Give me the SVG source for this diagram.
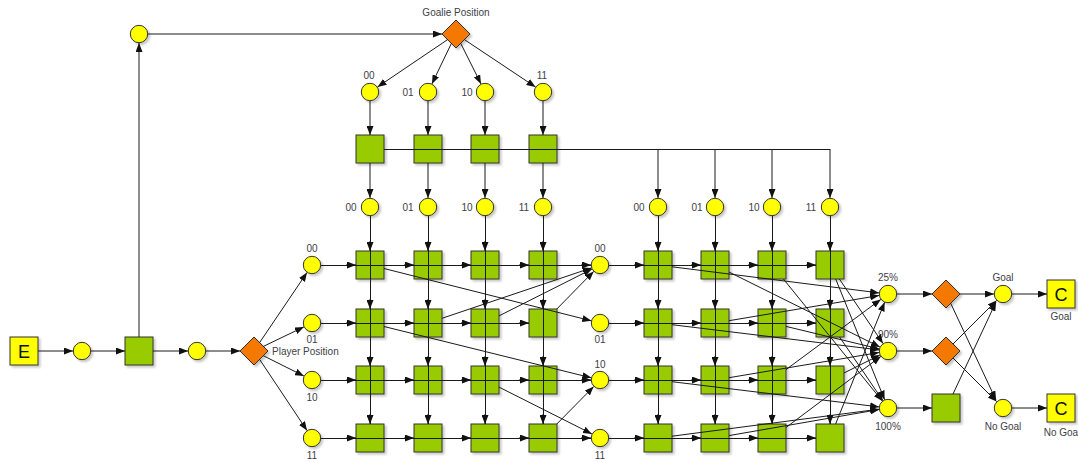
<svg xmlns="http://www.w3.org/2000/svg" width="1078" height="462" viewBox="0 0 1078 462">
<defs>
<marker id="a" viewBox="0 0 9 7" refX="9" refY="3.5" markerWidth="9" markerHeight="7" orient="auto" markerUnits="userSpaceOnUse"><path d="M0,0 L9,3.5 L0,7 z" fill="#111"/></marker>
<filter id="sh" x="-20%" y="-20%" width="150%" height="150%"><feDropShadow dx="2" dy="2" stdDeviation="1" flood-color="#000" flood-opacity="0.22"/></filter>
<style>
.c{fill:#ffff00;stroke:#333;stroke-width:1;filter:url(#sh)}
.s{fill:#99cc00;stroke:#333;stroke-width:1;filter:url(#sh)}
.d{fill:#f57900;stroke:#333;stroke-width:1;filter:url(#sh)}
.b{fill:#ffff00;stroke:#333;stroke-width:1;filter:url(#sh)}
.t{font-family:"Liberation Sans",Arial,sans-serif;font-size:10px;fill:#404048}
.m{text-anchor:middle}
.e{font-family:"Liberation Sans",Arial,sans-serif;font-size:18px;fill:#111;text-anchor:middle}
#conn path{fill:none;stroke:#1a1a1a;stroke-width:1;marker-end:url(#a)}
#conn path.o{marker-end:none;shape-rendering:crispEdges}
</style>
</defs>
<rect width="1078" height="462" fill="#fff"/>

<!-- left chain -->
<g id="E"><rect class="b" x="10" y="337" width="28" height="28"/><text class="e" x="24" y="358">E</text></g>
<g id="c1"><circle class="c" cx="82" cy="351" r="8.7"/></g>
<g id="s1"><rect class="s" x="125" y="337" width="28" height="28"/></g>
<g id="c2"><circle class="c" cx="197" cy="351" r="8.7"/></g>
<g id="player"><polygon class="d" points="254,337 268,351 254,365 240,351"/><text class="t" x="272" y="355">Player Position</text></g>
<g id="top"><circle class="c" cx="139" cy="34" r="8.7"/></g>
<g id="goalie"><polygon class="d" points="456,20 470,34 456,48 442,34"/><text class="t m" x="456" y="16">Goalie Position</text></g>

<!-- goalie circles -->
<g id="g00"><circle class="c" cx="370" cy="92" r="8.7"/><text class="t m" x="369" y="79">00</text></g>
<g id="g01"><circle class="c" cx="428" cy="92" r="8.7"/><text class="t m" x="408" y="96">01</text></g>
<g id="g10"><circle class="c" cx="485" cy="92" r="8.7"/><text class="t m" x="467" y="96">10</text></g>
<g id="g11"><circle class="c" cx="543" cy="92" r="8.7"/><text class="t m" x="542" y="79">11</text></g>
<g id="gs00"><rect class="s" x="356" y="135" width="28" height="28"/></g>
<g id="gs01"><rect class="s" x="414" y="135" width="28" height="28"/></g>
<g id="gs10"><rect class="s" x="471" y="135" width="28" height="28"/></g>
<g id="gs11"><rect class="s" x="529" y="135" width="28" height="28"/></g>

<!-- column circles -->
<g id="lc00"><circle class="c" cx="370" cy="207" r="8.7"/><text class="t m" x="351" y="211">00</text></g>
<g id="lc01"><circle class="c" cx="428" cy="207" r="8.7"/><text class="t m" x="408" y="211">01</text></g>
<g id="lc10"><circle class="c" cx="485" cy="207" r="8.7"/><text class="t m" x="467" y="211">10</text></g>
<g id="lc11"><circle class="c" cx="543" cy="207" r="8.7"/><text class="t m" x="524" y="211">11</text></g>
<g id="rc00"><circle class="c" cx="658" cy="207" r="8.7"/><text class="t m" x="639" y="211">00</text></g>
<g id="rc01"><circle class="c" cx="715" cy="207" r="8.7"/><text class="t m" x="697" y="211">01</text></g>
<g id="rc10"><circle class="c" cx="772" cy="207" r="8.7"/><text class="t m" x="754" y="211">10</text></g>
<g id="rc11"><circle class="c" cx="830" cy="207" r="8.7"/><text class="t m" x="811" y="211">11</text></g>

<!-- player circles -->
<g id="p00"><circle class="c" cx="312" cy="265" r="8.7"/><text class="t m" x="312" y="252">00</text></g>
<g id="p01"><circle class="c" cx="312" cy="323" r="8.7"/><text class="t m" x="312" y="343">01</text></g>
<g id="p10"><circle class="c" cx="312" cy="380" r="8.7"/><text class="t m" x="312" y="401">10</text></g>
<g id="p11"><circle class="c" cx="312" cy="438" r="8.7"/><text class="t m" x="312" y="459">11</text></g>

<!-- left grid -->
<g id="L00"><rect class="s" x="356" y="251" width="28" height="28"/></g>
<g id="L01"><rect class="s" x="414" y="251" width="28" height="28"/></g>
<g id="L02"><rect class="s" x="471" y="251" width="28" height="28"/></g>
<g id="L03"><rect class="s" x="529" y="251" width="28" height="28"/></g>
<g id="L10"><rect class="s" x="356" y="309" width="28" height="28"/></g>
<g id="L11"><rect class="s" x="414" y="309" width="28" height="28"/></g>
<g id="L12"><rect class="s" x="471" y="309" width="28" height="28"/></g>
<g id="L13"><rect class="s" x="529" y="309" width="28" height="28"/></g>
<g id="L20"><rect class="s" x="356" y="366" width="28" height="28"/></g>
<g id="L21"><rect class="s" x="414" y="366" width="28" height="28"/></g>
<g id="L22"><rect class="s" x="471" y="366" width="28" height="28"/></g>
<g id="L23"><rect class="s" x="529" y="366" width="28" height="28"/></g>
<g id="L30"><rect class="s" x="356" y="424" width="28" height="28"/></g>
<g id="L31"><rect class="s" x="414" y="424" width="28" height="28"/></g>
<g id="L32"><rect class="s" x="471" y="424" width="28" height="28"/></g>
<g id="L33"><rect class="s" x="529" y="424" width="28" height="28"/></g>

<!-- shot circles -->
<g id="o00"><circle class="c" cx="600" cy="265" r="8.7"/><text class="t m" x="600" y="252">00</text></g>
<g id="o01"><circle class="c" cx="600" cy="323" r="8.7"/><text class="t m" x="600" y="343">01</text></g>
<g id="o10"><circle class="c" cx="600" cy="380" r="8.7"/><text class="t m" x="600" y="368">10</text></g>
<g id="o11"><circle class="c" cx="600" cy="438" r="8.7"/><text class="t m" x="600" y="459">11</text></g>

<!-- right grid -->
<g id="R00"><rect class="s" x="644" y="251" width="28" height="28"/></g>
<g id="R01"><rect class="s" x="701" y="251" width="28" height="28"/></g>
<g id="R02"><rect class="s" x="758" y="251" width="28" height="28"/></g>
<g id="R03"><rect class="s" x="816" y="251" width="28" height="28"/></g>
<g id="R10"><rect class="s" x="644" y="309" width="28" height="28"/></g>
<g id="R11"><rect class="s" x="701" y="309" width="28" height="28"/></g>
<g id="R12"><rect class="s" x="758" y="309" width="28" height="28"/></g>
<g id="R13"><rect class="s" x="816" y="309" width="28" height="28"/></g>
<g id="R20"><rect class="s" x="644" y="366" width="28" height="28"/></g>
<g id="R21"><rect class="s" x="701" y="366" width="28" height="28"/></g>
<g id="R22"><rect class="s" x="758" y="366" width="28" height="28"/></g>
<g id="R23"><rect class="s" x="816" y="366" width="28" height="28"/></g>
<g id="R30"><rect class="s" x="644" y="424" width="28" height="28"/></g>
<g id="R31"><rect class="s" x="701" y="424" width="28" height="28"/></g>
<g id="R32"><rect class="s" x="758" y="424" width="28" height="28"/></g>
<g id="R33"><rect class="s" x="816" y="424" width="28" height="28"/></g>

<!-- outcome -->
<g id="o25"><circle class="c" cx="888" cy="294" r="8.7"/><text class="t m" x="888" y="281">25%</text></g>
<g id="o90"><circle class="c" cx="888" cy="351" r="8.7"/><text class="t m" x="888" y="338">90%</text></g>
<g id="o100"><circle class="c" cx="888" cy="408" r="8.7"/><text class="t m" x="888" y="430">100%</text></g>
<g id="d1"><polygon class="d" points="946,280 960,294 946,308 932,294"/></g>
<g id="d2"><polygon class="d" points="946,337 960,351 946,365 932,351"/></g>
<g id="s3"><rect class="s" x="932" y="394" width="28" height="28"/></g>
<g id="goal"><circle class="c" cx="1003" cy="294" r="8.7"/><text class="t m" x="1003" y="281">Goal</text></g>
<g id="nogoal"><circle class="c" cx="1003" cy="408" r="8.7"/><text class="t m" x="1003" y="430">No Goal</text></g>
<g id="cgoal"><rect class="b" x="1047" y="280" width="28" height="28"/><text class="e" x="1061" y="301">C</text><text class="t m" x="1061" y="320">Goal</text></g>
<g id="cnogoal"><rect class="b" x="1047" y="394" width="28" height="28"/><text class="e" x="1061" y="415">C</text><text class="t m" x="1062" y="436">No Goal</text></g>

<g id="conn">
<path d="M38 351H73"/><path d="M91 351H125"/><path d="M153 351H188"/><path d="M206 351H240"/>
<path d="M139 337V43"/><path d="M148 34H442"/>
<path d="M447.6 39.6L377.5 87"/><path d="M451.4 43.4L431.9 83.9"/><path d="M460.7 43.3L481 83.9"/><path d="M464.4 39.6L535.5 87"/>
<path d="M370 101V135"/><path d="M428 101V135"/><path d="M485 101V135"/><path d="M543 101V135"/>
<path d="M370 163V198"/><path d="M428 163V198"/><path d="M485 163V198"/><path d="M543 163V198"/>
<path class="o" d="M384 149H830"/>
<path d="M658 149V198"/><path d="M715 149V198"/><path d="M772 149V198"/><path d="M830 149V198"/>
<path d="M259.6 342.6L307 272.5"/><path d="M263.4 346.4L303.9 326.9"/><path d="M263.3 355.7L303.9 376"/><path d="M259.6 359.4L307 430.5"/>
<!-- left grid rows -->
<path class="o" d="M321 265H591"/><path class="o" d="M321 323H529"/><path class="o" d="M321 380H591"/><path class="o" d="M321 438H591"/>
<path d="M346 265H356"/><path d="M404 265H414"/><path d="M461 265H471"/><path d="M519 265H529"/><path d="M581 265H591"/>
<path d="M346 323H356"/><path d="M404 323H414"/><path d="M461 323H471"/><path d="M519 323H529"/>
<path d="M346 380H356"/><path d="M404 380H414"/><path d="M461 380H471"/><path d="M519 380H529"/><path d="M581 380H591"/>
<path d="M346 438H356"/><path d="M404 438H414"/><path d="M461 438H471"/><path d="M519 438H529"/><path d="M581 438H591"/>
<!-- left grid columns -->
<path class="o" d="M370 216V424"/><path class="o" d="M428 216V424"/><path class="o" d="M485 216V424"/><path class="o" d="M543 216V424"/>
<path d="M370 241V251"/><path d="M370 299V309"/><path d="M370 356V366"/><path d="M370 414V424"/>
<path d="M428 241V251"/><path d="M428 299V309"/><path d="M428 356V366"/><path d="M428 414V424"/>
<path d="M485 241V251"/><path d="M485 299V309"/><path d="M485 356V366"/><path d="M485 414V424"/>
<path d="M543 241V251"/><path d="M543 299V309"/><path d="M543 356V366"/><path d="M543 414V424"/>
<!-- left grid diagonals -->
<path d="M384 268.5L591.3 320.8"/><path d="M384 326.5L591.3 377.8"/>
<path d="M442 318.3L591.5 267.9"/><path d="M499 315.9L591.9 269.1"/><path d="M556.8 309L593.7 271.4"/>
<path d="M499 387.1L591.9 433.9"/><path d="M556.8 424L593.7 386.6"/>
<!-- right grid rows -->
<path class="o" d="M609 265H816"/><path class="o" d="M609 323H816"/><path class="o" d="M609 380H816"/><path class="o" d="M609 438H816"/>
<path d="M634 265H644"/><path d="M691 265H701"/><path d="M748 265H758"/><path d="M806 265H816"/>
<path d="M634 323H644"/><path d="M691 323H701"/><path d="M748 323H758"/><path d="M806 323H816"/>
<path d="M634 380H644"/><path d="M691 380H701"/><path d="M748 380H758"/><path d="M806 380H816"/>
<path d="M634 438H644"/><path d="M691 438H701"/><path d="M748 438H758"/><path d="M806 438H816"/>
<!-- right grid columns -->
<path class="o" d="M658 216V424"/><path class="o" d="M715 216V424"/><path class="o" d="M772 216V424"/><path class="o" d="M830 216V424"/>
<path d="M658 241V251"/><path d="M658 299V309"/><path d="M658 356V366"/><path d="M658 414V424"/>
<path d="M715 241V251"/><path d="M715 299V309"/><path d="M715 356V366"/><path d="M715 414V424"/>
<path d="M772 241V251"/><path d="M772 299V309"/><path d="M772 356V366"/><path d="M772 414V424"/>
<path d="M830 241V251"/><path d="M830 299V309"/><path d="M830 356V366"/><path d="M830 414V424"/>
<!-- right grid to outcomes -->
<path d="M672 266.8L879.1 292.9"/>
<path d="M729 272L879.9 347"/>
<path d="M783.4 279L882.3 401"/>
<path d="M839.4 279L883 343.5"/>
<path d="M835.7 279L884.6 399.7"/>
<path d="M672 324.7L879.1 349.9"/>
<path d="M729 320.7L879.1 295.5"/>
<path d="M786 326.4L879.3 348.9"/>
<path d="M839.6 337L882.9 400.6"/>
<path d="M672 381.7L879.1 406.9"/>
<path d="M729 377.7L879.1 352.5"/>
<path d="M786 369.6L880.8 299.4"/>
<path d="M844 373L879.9 355"/>
<path d="M672 436.2L879.1 409.2"/>
<path d="M729 435.6L879.1 409.5"/>
<path d="M786 427.5L880.8 356.4"/>
<path d="M835.6 424L884.6 302.3"/>
<!-- final -->
<path d="M897 294H932"/><path d="M897 351H932"/><path d="M897 408H932"/>
<path d="M960 294H994"/>
<path d="M950.7 303.3L996 400"/>
<path d="M953 344L996.6 300.4"/>
<path d="M953 358L996.6 401.6"/>
<path d="M953 394L996 302"/>
<path d="M1012 294H1047"/><path d="M1012 408H1047"/>
</g>
</svg>
